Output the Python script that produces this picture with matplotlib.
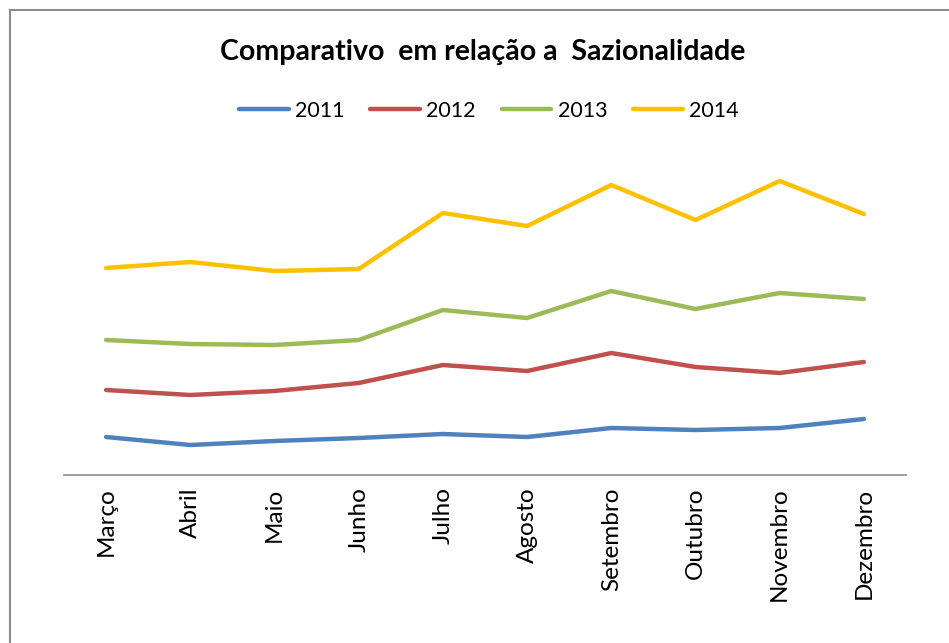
import matplotlib
matplotlib.use("Agg")
import matplotlib.pyplot as plt
from matplotlib.lines import Line2D

months = ["Março", "Abril", "Maio", "Junho", "Julho", "Agosto",
          "Setembro", "Outubro", "Novembro", "Dezembro"]
s2011 = [38, 30, 34, 37, 41, 38, 47, 45, 47, 56]
s2012 = [85, 80, 84, 92, 110, 104, 122, 108, 102, 113]
s2013 = [135, 131, 130, 135, 165, 157, 184, 166, 182, 176]
s2014 = [207, 213, 204, 206, 262, 249, 290, 255, 294, 261]
series = [("2011", s2011, "#4F81BD"), ("2012", s2012, "#C0504D"),
          ("2013", s2013, "#9BBB59"), ("2014", s2014, "#FFC000")]

plt.rcParams['font.family'] = ['Lato', 'DejaVu Sans']

W, H = 949, 643
fig = plt.figure(figsize=(W / 100, H / 100), dpi=100)
fig.patch.set_facecolor("white")

# outer border (left and top visible)
fig.add_artist(Line2D([10 / W, 10 / W], [0, 1 - 10 / H], transform=fig.transFigure,
                      color="#8c8c8c", lw=1.5))
fig.add_artist(Line2D([10 / W, 1], [1 - 10 / H, 1 - 10 / H], transform=fig.transFigure,
                      color="#8c8c8c", lw=1.5))

ax_left, ax_right, ax_bottom, ax_top = 64, 906, 475, 150
ax = fig.add_axes([ax_left / W, 1 - ax_bottom / H, (ax_right - ax_left) / W,
                   (ax_bottom - ax_top) / H])
x = list(range(len(months)))
for name, vals, col in series:
    ax.plot(x, vals, color=col, lw=3.2, label=name, solid_capstyle="round",
            solid_joinstyle="round")

ax.set_xlim(-0.5, len(months) - 0.5)
ax.set_ylim(0, ax_bottom - ax_top)
for sp in ["top", "right", "left"]:
    ax.spines[sp].set_visible(False)
ax.spines["bottom"].set_color("#8c8c8c")
ax.spines["bottom"].set_linewidth(1.2)
ax.set_yticks([])
ax.set_xticks(x)
ax.set_xticklabels(months, rotation=90, fontsize=17.5, va="top")
ax.tick_params(axis="x", length=0, pad=9)

fig.text(483 / W, 1 - 52 / H, "Comparativo  em relação a  Sazionalidade",
         ha="center", va="center", fontsize=20.5, fontweight="bold")

fig.legend(loc="center", bbox_to_anchor=(489 / W, 1 - 111 / H), ncol=4,
           frameon=False, fontsize=15.5, handlelength=2.3, handletextpad=0.3,
           columnspacing=1.2)

fig.savefig("out.png", dpi=100)
